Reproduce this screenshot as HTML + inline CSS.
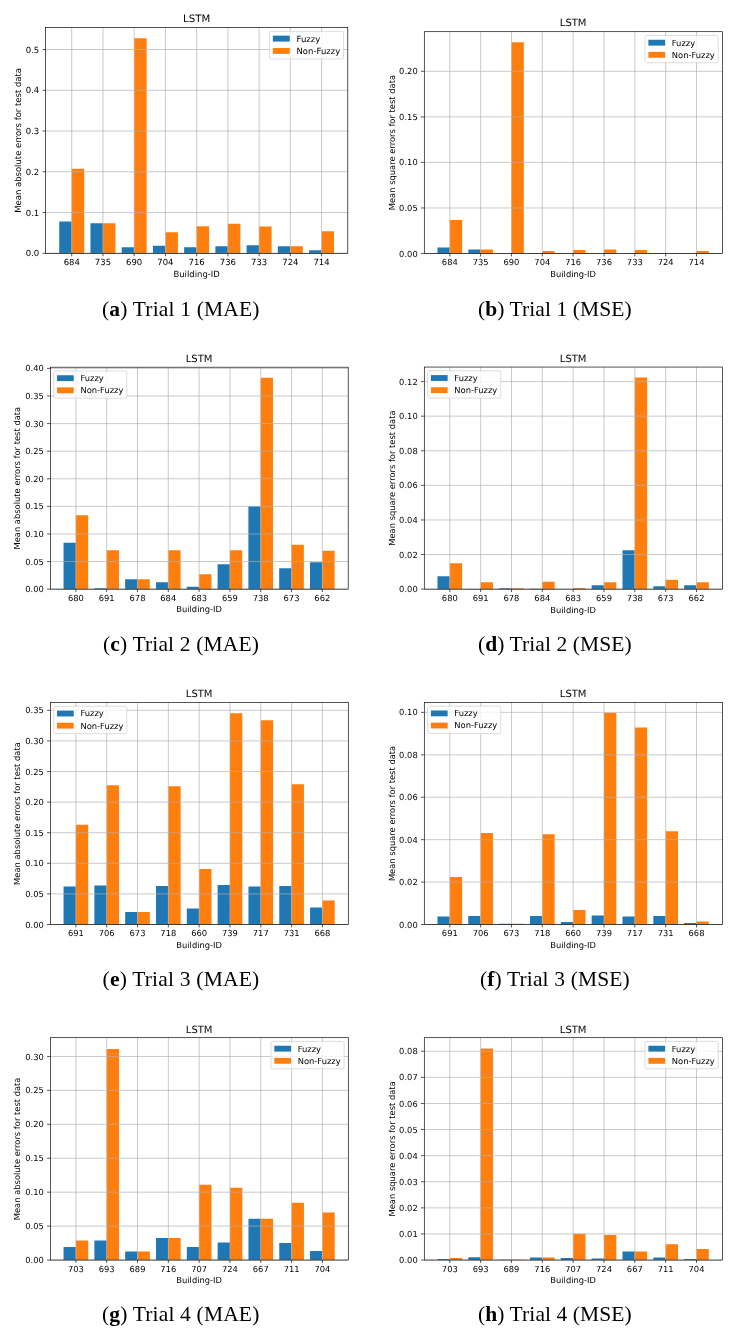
<!DOCTYPE html>
<html lang="en">
<head>
<meta charset="utf-8">
<title>LSTM fuzzy vs non-fuzzy errors</title>
<style>
html,body{margin:0;padding:0;background:#fff;}
body{width:742px;height:1340px;overflow:hidden;}
svg{display:block;will-change:transform;}
.chart text{font-family:"DejaVu Sans","Liberation Sans",sans-serif;fill:#000;text-rendering:geometricPrecision;}
.cap{font-family:"Liberation Serif","DejaVu Serif",serif;font-size:21.5px;fill:#000;}
.cap tspan.b{font-weight:bold;}
</style>
</head>
<body>
<svg width="742" height="1340" viewBox="0 0 742 1340">
<g class="chart" id="chart-a">
<path d="M59.24 253.3V221.51h12.49V253.3zM90.47 253.3V223.18h12.49V253.3zM121.7 253.3V247.23h12.49V253.3zM152.93 253.3V245.72h12.49V253.3zM184.16 253.3V247.23h12.49V253.3zM215.39 253.3V246.29h12.49V253.3zM246.62 253.3V245.19h12.49V253.3zM277.85 253.3V246.29h12.49V253.3zM309.08 253.3V250.28h12.49V253.3z" fill="#1f77b4"/>
<path d="M71.73 253.3V168.69h12.49V253.3zM102.96 253.3V223.18h12.49V253.3zM134.19 253.3V38.26h12.49V253.3zM165.42 253.3V232.19h12.49V253.3zM196.65 253.3V226.28h12.49V253.3zM227.88 253.3V223.75h12.49V253.3zM259.11 253.3V226.6h12.49V253.3zM290.34 253.3V246.29h12.49V253.3zM321.57 253.3V231.29h12.49V253.3z" fill="#ff7f0e"/>
<path d="M71.73 27.5V253.3M102.96 27.5V253.3M134.19 27.5V253.3M165.42 27.5V253.3M196.65 27.5V253.3M227.88 27.5V253.3M259.11 27.5V253.3M290.34 27.5V253.3M321.57 27.5V253.3M45.5 253.3H347.8M45.5 212.54H347.8M45.5 171.78H347.8M45.5 131.03H347.8M45.5 90.27H347.8M45.5 49.51H347.8" stroke="#b0b0b0" stroke-width="0.68" fill="none"/>
<path d="M71.73 253.3v2.96M102.96 253.3v2.96M134.19 253.3v2.96M165.42 253.3v2.96M196.65 253.3v2.96M227.88 253.3v2.96M259.11 253.3v2.96M290.34 253.3v2.96M321.57 253.3v2.96M45.5 253.3h-2.96M45.5 212.54h-2.96M45.5 171.78h-2.96M45.5 131.03h-2.96M45.5 90.27h-2.96M45.5 49.51h-2.96" stroke="#000" stroke-opacity="1" stroke-width="0.68" fill="none"/>
<rect x="45.5" y="27.5" width="302.3" height="225.8" fill="none" stroke="#000" stroke-opacity="1" stroke-width="0.68"/>
<rect x="269.46" y="31.28" width="74.11" height="27.67" rx="1.69" fill="#fff" fill-opacity="0.8" stroke="#ccc" stroke-opacity="0.8" stroke-width="0.85"/>
<rect x="272.84" y="35.65" width="16.93" height="5.92" fill="#1f77b4"/>
<rect x="272.84" y="47.97" width="16.93" height="5.92" fill="#ff7f0e"/>
<g opacity="1">
<text x="296.54" y="41.58" font-size="8.47">Fuzzy</text>
<text x="296.54" y="53.89" font-size="8.47">Non-Fuzzy</text>
<text x="71.73" y="265.12" font-size="8.47" text-anchor="middle">684</text>
<text x="102.96" y="265.12" font-size="8.47" text-anchor="middle">735</text>
<text x="134.19" y="265.12" font-size="8.47" text-anchor="middle">690</text>
<text x="165.42" y="265.12" font-size="8.47" text-anchor="middle">704</text>
<text x="196.65" y="265.12" font-size="8.47" text-anchor="middle">716</text>
<text x="227.88" y="265.12" font-size="8.47" text-anchor="middle">736</text>
<text x="259.11" y="265.12" font-size="8.47" text-anchor="middle">733</text>
<text x="290.34" y="265.12" font-size="8.47" text-anchor="middle">724</text>
<text x="321.57" y="265.12" font-size="8.47" text-anchor="middle">714</text>
<text x="39.22" y="256.41" font-size="8.47" text-anchor="end">0.0</text>
<text x="39.22" y="215.65" font-size="8.47" text-anchor="end">0.1</text>
<text x="39.22" y="174.89" font-size="8.47" text-anchor="end">0.2</text>
<text x="39.22" y="134.13" font-size="8.47" text-anchor="end">0.3</text>
<text x="39.22" y="93.38" font-size="8.47" text-anchor="end">0.4</text>
<text x="39.22" y="52.62" font-size="8.47" text-anchor="end">0.5</text>
<text x="196.65" y="276.95" font-size="8.47" text-anchor="middle">Building-ID</text>
<text transform="translate(20.5 140.4) rotate(-90)" font-size="8.47" text-anchor="middle">Mean absolute errors for test data</text>
<text x="196.65" y="22.42" font-size="10.16" text-anchor="middle">LSTM</text>
</g>
</g>
<g class="chart" id="chart-b">
<path d="M437.47 253.5V247.49h12.33V253.5zM468.3 253.5V249.49h12.33V253.5zM499.14 253.5V253.23h12.33V253.5zM529.98 253.5V253.14h12.33V253.5zM560.82 253.5V253.23h12.33V253.5zM591.65 253.5V253.23h12.33V253.5zM622.49 253.5V253.14h12.33V253.5zM653.33 253.5V253.23h12.33V253.5zM684.16 253.5V253.41h12.33V253.5z" fill="#1f77b4"/>
<path d="M449.8 253.5V220.07h12.33V253.5zM480.64 253.5V249.49h12.33V253.5zM511.48 253.5V42.36h12.33V253.5zM542.31 253.5V251.04h12.33V253.5zM573.15 253.5V250.04h12.33V253.5zM603.99 253.5V249.49h12.33V253.5zM634.82 253.5V250.04h12.33V253.5zM665.66 253.5V253.23h12.33V253.5zM696.5 253.5V251.04h12.33V253.5z" fill="#ff7f0e"/>
<path d="M449.8 31.7V253.5M480.64 31.7V253.5M511.48 31.7V253.5M542.31 31.7V253.5M573.15 31.7V253.5M603.99 31.7V253.5M634.82 31.7V253.5M665.66 31.7V253.5M696.5 31.7V253.5M423.9 253.5H722.4M423.9 207.96H722.4M423.9 162.41H722.4M423.9 116.87H722.4M423.9 71.32H722.4" stroke="#b0b0b0" stroke-width="0.67" fill="none"/>
<path d="M449.8 253.5v2.93M480.64 253.5v2.93M511.48 253.5v2.93M542.31 253.5v2.93M573.15 253.5v2.93M603.99 253.5v2.93M634.82 253.5v2.93M665.66 253.5v2.93M696.5 253.5v2.93M423.9 253.5h-2.93M423.9 207.96h-2.93M423.9 162.41h-2.93M423.9 116.87h-2.93M423.9 71.32h-2.93" stroke="#000" stroke-opacity="1" stroke-width="0.67" fill="none"/>
<rect x="424.3" y="31.7" width="298.1" height="221.8" fill="none" stroke="#000" stroke-opacity="1" stroke-width="0.67"/>
<rect x="645.04" y="35.43" width="73.18" height="27.32" rx="1.67" fill="#fff" fill-opacity="0.8" stroke="#ccc" stroke-opacity="0.8" stroke-width="0.84"/>
<rect x="648.38" y="39.75" width="16.72" height="5.85" fill="#1f77b4"/>
<rect x="648.38" y="51.91" width="16.72" height="5.85" fill="#ff7f0e"/>
<g opacity="1">
<text x="671.79" y="45.6" font-size="8.36">Fuzzy</text>
<text x="671.79" y="57.76" font-size="8.36">Non-Fuzzy</text>
<text x="449.8" y="265.18" font-size="8.36" text-anchor="middle">684</text>
<text x="480.64" y="265.18" font-size="8.36" text-anchor="middle">735</text>
<text x="511.48" y="265.18" font-size="8.36" text-anchor="middle">690</text>
<text x="542.31" y="265.18" font-size="8.36" text-anchor="middle">704</text>
<text x="573.15" y="265.18" font-size="8.36" text-anchor="middle">716</text>
<text x="603.99" y="265.18" font-size="8.36" text-anchor="middle">736</text>
<text x="634.82" y="265.18" font-size="8.36" text-anchor="middle">733</text>
<text x="665.66" y="265.18" font-size="8.36" text-anchor="middle">724</text>
<text x="696.5" y="265.18" font-size="8.36" text-anchor="middle">714</text>
<text x="417.7" y="256.57" font-size="8.36" text-anchor="end">0.00</text>
<text x="417.7" y="211.03" font-size="8.36" text-anchor="end">0.05</text>
<text x="417.7" y="165.48" font-size="8.36" text-anchor="end">0.10</text>
<text x="417.7" y="119.94" font-size="8.36" text-anchor="end">0.15</text>
<text x="417.7" y="74.39" font-size="8.36" text-anchor="end">0.20</text>
<text x="573.15" y="276.85" font-size="8.36" text-anchor="middle">Building-ID</text>
<text transform="translate(394.5 142.6) rotate(-90)" font-size="8.36" text-anchor="middle">Mean square errors for test data</text>
<text x="573.15" y="26.29" font-size="10.03" text-anchor="middle">LSTM</text>
</g>
</g>
<g class="chart" id="chart-c">
<path d="M63.55 589.15V542.69h12.32V589.15zM94.36 589.15V588.16h12.32V589.15zM125.17 589.15V579.16h12.32V589.15zM155.97 589.15V582.14h12.32V589.15zM186.78 589.15V586.67h12.32V589.15zM217.58 589.15V564.21h12.32V589.15zM248.39 589.15V506.26h12.32V589.15zM279.2 589.15V568.18h12.32V589.15zM310 589.15V562.17h12.32V589.15z" fill="#1f77b4"/>
<path d="M75.88 589.15V515.26h12.32V589.15zM106.68 589.15V550.19h12.32V589.15zM137.49 589.15V579.16h12.32V589.15zM168.29 589.15V550.19h12.32V589.15zM199.1 589.15V574.2h12.32V589.15zM229.91 589.15V550.19h12.32V589.15zM260.71 589.15V377.68h12.32V589.15zM291.52 589.15V544.73h12.32V589.15zM322.32 589.15V550.69h12.32V589.15z" fill="#ff7f0e"/>
<path d="M75.88 367.2V589.15M106.68 367.2V589.15M137.49 367.2V589.15M168.29 367.2V589.15M199.1 367.2V589.15M229.91 367.2V589.15M260.71 367.2V589.15M291.52 367.2V589.15M322.32 367.2V589.15M50 589.15H348.2M50 561.56H348.2M50 533.97H348.2M50 506.37H348.2M50 478.78H348.2M50 451.19H348.2M50 423.6H348.2M50 396.01H348.2M50 368.41H348.2" stroke="#b0b0b0" stroke-width="0.67" fill="none"/>
<path d="M75.88 589.15v2.92M106.68 589.15v2.92M137.49 589.15v2.92M168.29 589.15v2.92M199.1 589.15v2.92M229.91 589.15v2.92M260.71 589.15v2.92M291.52 589.15v2.92M322.32 589.15v2.92M50 589.15h-2.92M50 561.56h-2.92M50 533.97h-2.92M50 506.37h-2.92M50 478.78h-2.92M50 451.19h-2.92M50 423.6h-2.92M50 396.01h-2.92M50 368.41h-2.92" stroke="#000" stroke-opacity="1" stroke-width="0.67" fill="none"/>
<rect x="50.5" y="367.2" width="297.7" height="221.95" fill="none" stroke="#000" stroke-opacity="1" stroke-width="0.67"/>
<rect x="53.67" y="370.93" width="73.11" height="27.29" rx="1.67" fill="#fff" fill-opacity="0.8" stroke="#ccc" stroke-opacity="0.8" stroke-width="0.84"/>
<rect x="57.02" y="375.24" width="16.7" height="5.84" fill="#1f77b4"/>
<rect x="57.02" y="387.39" width="16.7" height="5.84" fill="#ff7f0e"/>
<g opacity="1">
<text x="80.4" y="381.09" font-size="8.35">Fuzzy</text>
<text x="80.4" y="393.23" font-size="8.35">Non-Fuzzy</text>
<text x="75.88" y="600.81" font-size="8.35" text-anchor="middle">680</text>
<text x="106.68" y="600.81" font-size="8.35" text-anchor="middle">691</text>
<text x="137.49" y="600.81" font-size="8.35" text-anchor="middle">678</text>
<text x="168.29" y="600.81" font-size="8.35" text-anchor="middle">684</text>
<text x="199.1" y="600.81" font-size="8.35" text-anchor="middle">683</text>
<text x="229.91" y="600.81" font-size="8.35" text-anchor="middle">659</text>
<text x="260.71" y="600.81" font-size="8.35" text-anchor="middle">738</text>
<text x="291.52" y="600.81" font-size="8.35" text-anchor="middle">673</text>
<text x="322.32" y="600.81" font-size="8.35" text-anchor="middle">662</text>
<text x="43.81" y="592.22" font-size="8.35" text-anchor="end">0.00</text>
<text x="43.81" y="564.62" font-size="8.35" text-anchor="end">0.05</text>
<text x="43.81" y="537.03" font-size="8.35" text-anchor="end">0.10</text>
<text x="43.81" y="509.44" font-size="8.35" text-anchor="end">0.15</text>
<text x="43.81" y="481.85" font-size="8.35" text-anchor="end">0.20</text>
<text x="43.81" y="454.26" font-size="8.35" text-anchor="end">0.25</text>
<text x="43.81" y="426.66" font-size="8.35" text-anchor="end">0.30</text>
<text x="43.81" y="399.07" font-size="8.35" text-anchor="end">0.35</text>
<text x="43.81" y="371.48" font-size="8.35" text-anchor="end">0.40</text>
<text x="199.1" y="612.48" font-size="8.35" text-anchor="middle">Building-ID</text>
<text transform="translate(20.4 478.17) rotate(-90)" font-size="8.35" text-anchor="middle">Mean absolute errors for test data</text>
<text x="199.1" y="362.19" font-size="10.02" text-anchor="middle">LSTM</text>
</g>
</g>
<g class="chart" id="chart-d">
<path d="M437.47 589.15V576.18h12.33V589.15zM468.3 589.15V588.98h12.33V589.15zM499.14 589.15V588.29h12.33V589.15zM529.98 589.15V588.8h12.33V589.15zM591.65 589.15V585.17h12.33V589.15zM622.49 589.15V550.14h12.33V589.15zM653.33 589.15V586.21h12.33V589.15zM684.16 589.15V585.17h12.33V589.15z" fill="#1f77b4"/>
<path d="M449.8 589.15V563.2h12.33V589.15zM480.64 589.15V582.23h12.33V589.15zM511.48 589.15V588.29h12.33V589.15zM542.31 589.15V581.71h12.33V589.15zM573.15 589.15V588.11h12.33V589.15zM603.99 589.15V582.23h12.33V589.15zM634.82 589.15V377.6h12.33V589.15zM665.66 589.15V579.64h12.33V589.15zM696.5 589.15V582.23h12.33V589.15z" fill="#ff7f0e"/>
<path d="M449.8 367.05V589.15M480.64 367.05V589.15M511.48 367.05V589.15M542.31 367.05V589.15M573.15 367.05V589.15M603.99 367.05V589.15M634.82 367.05V589.15M665.66 367.05V589.15M696.5 367.05V589.15M423.9 589.15H722.4M423.9 554.55H722.4M423.9 519.96H722.4M423.9 485.36H722.4M423.9 450.77H722.4M423.9 416.17H722.4M423.9 381.58H722.4" stroke="#b0b0b0" stroke-width="0.67" fill="none"/>
<path d="M449.8 589.15v2.93M480.64 589.15v2.93M511.48 589.15v2.93M542.31 589.15v2.93M573.15 589.15v2.93M603.99 589.15v2.93M634.82 589.15v2.93M665.66 589.15v2.93M696.5 589.15v2.93M423.9 589.15h-2.93M423.9 554.55h-2.93M423.9 519.96h-2.93M423.9 485.36h-2.93M423.9 450.77h-2.93M423.9 416.17h-2.93M423.9 381.58h-2.93" stroke="#000" stroke-opacity="1" stroke-width="0.67" fill="none"/>
<rect x="424.3" y="367.05" width="298.1" height="222.1" fill="none" stroke="#000" stroke-opacity="1" stroke-width="0.67"/>
<rect x="427.58" y="370.78" width="73.18" height="27.32" rx="1.67" fill="#fff" fill-opacity="0.8" stroke="#ccc" stroke-opacity="0.8" stroke-width="0.84"/>
<rect x="430.92" y="375.1" width="16.72" height="5.85" fill="#1f77b4"/>
<rect x="430.92" y="387.26" width="16.72" height="5.85" fill="#ff7f0e"/>
<g opacity="1">
<text x="454.33" y="380.95" font-size="8.36">Fuzzy</text>
<text x="454.33" y="393.11" font-size="8.36">Non-Fuzzy</text>
<text x="449.8" y="600.83" font-size="8.36" text-anchor="middle">680</text>
<text x="480.64" y="600.83" font-size="8.36" text-anchor="middle">691</text>
<text x="511.48" y="600.83" font-size="8.36" text-anchor="middle">678</text>
<text x="542.31" y="600.83" font-size="8.36" text-anchor="middle">684</text>
<text x="573.15" y="600.83" font-size="8.36" text-anchor="middle">683</text>
<text x="603.99" y="600.83" font-size="8.36" text-anchor="middle">659</text>
<text x="634.82" y="600.83" font-size="8.36" text-anchor="middle">738</text>
<text x="665.66" y="600.83" font-size="8.36" text-anchor="middle">673</text>
<text x="696.5" y="600.83" font-size="8.36" text-anchor="middle">662</text>
<text x="417.7" y="592.22" font-size="8.36" text-anchor="end">0.00</text>
<text x="417.7" y="557.62" font-size="8.36" text-anchor="end">0.02</text>
<text x="417.7" y="523.03" font-size="8.36" text-anchor="end">0.04</text>
<text x="417.7" y="488.43" font-size="8.36" text-anchor="end">0.06</text>
<text x="417.7" y="453.84" font-size="8.36" text-anchor="end">0.08</text>
<text x="417.7" y="419.24" font-size="8.36" text-anchor="end">0.10</text>
<text x="417.7" y="384.65" font-size="8.36" text-anchor="end">0.12</text>
<text x="573.15" y="612.5" font-size="8.36" text-anchor="middle">Building-ID</text>
<text transform="translate(394.5 478.1) rotate(-90)" font-size="8.36" text-anchor="middle">Mean square errors for test data</text>
<text x="573.15" y="362.04" font-size="10.03" text-anchor="middle">LSTM</text>
</g>
</g>
<g class="chart" id="chart-e">
<path d="M63.56 924.5V886.56h12.33V924.5zM94.38 924.5V885.58h12.33V924.5zM125.19 924.5V912.02h12.33V924.5zM156.01 924.5V886.07h12.33V924.5zM186.82 924.5V908.53h12.33V924.5zM217.64 924.5V885.09h12.33V924.5zM248.46 924.5V886.56h12.33V924.5zM279.27 924.5V886.07h12.33V924.5zM310.09 924.5V907.55h12.33V924.5z" fill="#1f77b4"/>
<path d="M75.89 924.5V824.63h12.33V924.5zM106.7 924.5V785.22h12.33V924.5zM137.52 924.5V912.02h12.33V924.5zM168.33 924.5V786.2h12.33V924.5zM199.15 924.5V869.06h12.33V924.5zM229.97 924.5V713.14h12.33V924.5zM260.78 924.5V720.36h12.33V924.5zM291.6 924.5V784.24h12.33V924.5zM322.41 924.5V900.51h12.33V924.5z" fill="#ff7f0e"/>
<path d="M75.89 702.55V924.5M106.7 702.55V924.5M137.52 702.55V924.5M168.33 702.55V924.5M199.15 702.55V924.5M229.97 702.55V924.5M260.78 702.55V924.5M291.6 702.55V924.5M322.41 702.55V924.5M50 924.5H348.3M50 893.9H348.3M50 863.31H348.3M50 832.71H348.3M50 802.11H348.3M50 771.52H348.3M50 740.92H348.3M50 710.32H348.3" stroke="#b0b0b0" stroke-width="0.67" fill="none"/>
<path d="M75.89 924.5v2.92M106.7 924.5v2.92M137.52 924.5v2.92M168.33 924.5v2.92M199.15 924.5v2.92M229.97 924.5v2.92M260.78 924.5v2.92M291.6 924.5v2.92M322.41 924.5v2.92M50 924.5h-2.92M50 893.9h-2.92M50 863.31h-2.92M50 832.71h-2.92M50 802.11h-2.92M50 771.52h-2.92M50 740.92h-2.92M50 710.32h-2.92" stroke="#000" stroke-opacity="1" stroke-width="0.67" fill="none"/>
<rect x="50.5" y="702.55" width="297.8" height="221.95" fill="none" stroke="#000" stroke-opacity="1" stroke-width="0.67"/>
<rect x="53.68" y="706.28" width="73.13" height="27.3" rx="1.67" fill="#fff" fill-opacity="0.8" stroke="#ccc" stroke-opacity="0.8" stroke-width="0.84"/>
<rect x="57.02" y="710.6" width="16.71" height="5.85" fill="#1f77b4"/>
<rect x="57.02" y="722.75" width="16.71" height="5.85" fill="#ff7f0e"/>
<g opacity="1">
<text x="80.41" y="716.44" font-size="8.35">Fuzzy</text>
<text x="80.41" y="728.59" font-size="8.35">Non-Fuzzy</text>
<text x="75.89" y="936.17" font-size="8.35" text-anchor="middle">691</text>
<text x="106.7" y="936.17" font-size="8.35" text-anchor="middle">706</text>
<text x="137.52" y="936.17" font-size="8.35" text-anchor="middle">673</text>
<text x="168.33" y="936.17" font-size="8.35" text-anchor="middle">718</text>
<text x="199.15" y="936.17" font-size="8.35" text-anchor="middle">660</text>
<text x="229.97" y="936.17" font-size="8.35" text-anchor="middle">739</text>
<text x="260.78" y="936.17" font-size="8.35" text-anchor="middle">717</text>
<text x="291.6" y="936.17" font-size="8.35" text-anchor="middle">731</text>
<text x="322.41" y="936.17" font-size="8.35" text-anchor="middle">668</text>
<text x="43.81" y="927.57" font-size="8.35" text-anchor="end">0.00</text>
<text x="43.81" y="896.97" font-size="8.35" text-anchor="end">0.05</text>
<text x="43.81" y="866.37" font-size="8.35" text-anchor="end">0.10</text>
<text x="43.81" y="835.78" font-size="8.35" text-anchor="end">0.15</text>
<text x="43.81" y="805.18" font-size="8.35" text-anchor="end">0.20</text>
<text x="43.81" y="774.58" font-size="8.35" text-anchor="end">0.25</text>
<text x="43.81" y="743.99" font-size="8.35" text-anchor="end">0.30</text>
<text x="43.81" y="713.39" font-size="8.35" text-anchor="end">0.35</text>
<text x="199.15" y="947.83" font-size="8.35" text-anchor="middle">Building-ID</text>
<text transform="translate(20.4 813.52) rotate(-90)" font-size="8.35" text-anchor="middle">Mean absolute errors for test data</text>
<text x="199.15" y="697.14" font-size="10.02" text-anchor="middle">LSTM</text>
</g>
</g>
<g class="chart" id="chart-f">
<path d="M437.47 924.5V916.44h12.33V924.5zM468.3 924.5V916.01h12.33V924.5zM499.14 924.5V923.86h12.33V924.5zM529.98 924.5V916.01h12.33V924.5zM560.82 924.5V921.95h12.33V924.5zM591.65 924.5V915.59h12.33V924.5zM622.49 924.5V916.44h12.33V924.5zM653.33 924.5V916.01h12.33V924.5zM684.16 924.5V923.02h12.33V924.5z" fill="#1f77b4"/>
<path d="M449.8 924.5V877.09h12.33V924.5zM480.64 924.5V833.07h12.33V924.5zM511.48 924.5V923.65h12.33V924.5zM542.31 924.5V834.13h12.33V924.5zM573.15 924.5V910.08h12.33V924.5zM603.99 924.5V712.79h12.33V924.5zM634.82 924.5V727.43h12.33V924.5zM665.66 924.5V831.37h12.33V924.5zM696.5 924.5V921.53h12.33V924.5z" fill="#ff7f0e"/>
<path d="M449.8 702.4V924.5M480.64 702.4V924.5M511.48 702.4V924.5M542.31 702.4V924.5M573.15 702.4V924.5M603.99 702.4V924.5M634.82 702.4V924.5M665.66 702.4V924.5M696.5 702.4V924.5M423.9 924.5H722.4M423.9 882.07H722.4M423.9 839.65H722.4M423.9 797.22H722.4M423.9 754.8H722.4M423.9 712.37H722.4" stroke="#b0b0b0" stroke-width="0.67" fill="none"/>
<path d="M449.8 924.5v2.93M480.64 924.5v2.93M511.48 924.5v2.93M542.31 924.5v2.93M573.15 924.5v2.93M603.99 924.5v2.93M634.82 924.5v2.93M665.66 924.5v2.93M696.5 924.5v2.93M423.9 924.5h-2.93M423.9 882.07h-2.93M423.9 839.65h-2.93M423.9 797.22h-2.93M423.9 754.8h-2.93M423.9 712.37h-2.93" stroke="#000" stroke-opacity="1" stroke-width="0.67" fill="none"/>
<rect x="424.3" y="702.4" width="298.1" height="222.1" fill="none" stroke="#000" stroke-opacity="1" stroke-width="0.67"/>
<rect x="427.58" y="706.13" width="73.18" height="27.32" rx="1.67" fill="#fff" fill-opacity="0.8" stroke="#ccc" stroke-opacity="0.8" stroke-width="0.84"/>
<rect x="430.92" y="710.45" width="16.72" height="5.85" fill="#1f77b4"/>
<rect x="430.92" y="722.61" width="16.72" height="5.85" fill="#ff7f0e"/>
<g opacity="1">
<text x="454.33" y="716.3" font-size="8.36">Fuzzy</text>
<text x="454.33" y="728.46" font-size="8.36">Non-Fuzzy</text>
<text x="449.8" y="936.18" font-size="8.36" text-anchor="middle">691</text>
<text x="480.64" y="936.18" font-size="8.36" text-anchor="middle">706</text>
<text x="511.48" y="936.18" font-size="8.36" text-anchor="middle">673</text>
<text x="542.31" y="936.18" font-size="8.36" text-anchor="middle">718</text>
<text x="573.15" y="936.18" font-size="8.36" text-anchor="middle">660</text>
<text x="603.99" y="936.18" font-size="8.36" text-anchor="middle">739</text>
<text x="634.82" y="936.18" font-size="8.36" text-anchor="middle">717</text>
<text x="665.66" y="936.18" font-size="8.36" text-anchor="middle">731</text>
<text x="696.5" y="936.18" font-size="8.36" text-anchor="middle">668</text>
<text x="417.7" y="927.57" font-size="8.36" text-anchor="end">0.00</text>
<text x="417.7" y="885.14" font-size="8.36" text-anchor="end">0.02</text>
<text x="417.7" y="842.72" font-size="8.36" text-anchor="end">0.04</text>
<text x="417.7" y="800.29" font-size="8.36" text-anchor="end">0.06</text>
<text x="417.7" y="757.87" font-size="8.36" text-anchor="end">0.08</text>
<text x="417.7" y="715.44" font-size="8.36" text-anchor="end">0.10</text>
<text x="573.15" y="947.85" font-size="8.36" text-anchor="middle">Building-ID</text>
<text transform="translate(394.5 813.45) rotate(-90)" font-size="8.36" text-anchor="middle">Mean square errors for test data</text>
<text x="573.15" y="696.89" font-size="10.03" text-anchor="middle">LSTM</text>
</g>
</g>
<g class="chart" id="chart-g">
<path d="M63.56 1260.05V1247.09h12.33V1260.05zM94.38 1260.05V1240.57h12.33V1260.05zM125.19 1260.05V1251.57h12.33V1260.05zM156.01 1260.05V1238.06h12.33V1260.05zM186.82 1260.05V1247.09h12.33V1260.05zM217.64 1260.05V1242.61h12.33V1260.05zM248.46 1260.05V1218.66h12.33V1260.05zM279.27 1260.05V1243.09h12.33V1260.05zM310.09 1260.05V1251.09h12.33V1260.05z" fill="#1f77b4"/>
<path d="M75.89 1260.05V1240.57h12.33V1260.05zM106.7 1260.05V1048.94h12.33V1260.05zM137.52 1260.05V1251.57h12.33V1260.05zM168.33 1260.05V1238.06h12.33V1260.05zM199.15 1260.05V1184.73h12.33V1260.05zM229.97 1260.05V1187.71h12.33V1260.05zM260.78 1260.05V1218.66h12.33V1260.05zM291.6 1260.05V1202.64h12.33V1260.05zM322.41 1260.05V1212.62h12.33V1260.05z" fill="#ff7f0e"/>
<path d="M75.89 1037.7V1260.05M106.7 1037.7V1260.05M137.52 1037.7V1260.05M168.33 1037.7V1260.05M199.15 1037.7V1260.05M229.97 1037.7V1260.05M260.78 1037.7V1260.05M291.6 1037.7V1260.05M322.41 1037.7V1260.05M50 1260.05H348.3M50 1226.12H348.3M50 1192.19H348.3M50 1158.26H348.3M50 1124.33H348.3M50 1090.4H348.3M50 1056.47H348.3" stroke="#b0b0b0" stroke-width="0.67" fill="none"/>
<path d="M75.89 1260.05v2.92M106.7 1260.05v2.92M137.52 1260.05v2.92M168.33 1260.05v2.92M199.15 1260.05v2.92M229.97 1260.05v2.92M260.78 1260.05v2.92M291.6 1260.05v2.92M322.41 1260.05v2.92M50 1260.05h-2.92M50 1226.12h-2.92M50 1192.19h-2.92M50 1158.26h-2.92M50 1124.33h-2.92M50 1090.4h-2.92M50 1056.47h-2.92" stroke="#000" stroke-opacity="1" stroke-width="0.67" fill="none"/>
<rect x="50.5" y="1037.7" width="297.8" height="222.35" fill="none" stroke="#000" stroke-opacity="1" stroke-width="0.67"/>
<rect x="270.99" y="1041.43" width="73.13" height="27.3" rx="1.67" fill="#fff" fill-opacity="0.8" stroke="#ccc" stroke-opacity="0.8" stroke-width="0.84"/>
<rect x="274.33" y="1045.75" width="16.71" height="5.85" fill="#1f77b4"/>
<rect x="274.33" y="1057.9" width="16.71" height="5.85" fill="#ff7f0e"/>
<g opacity="1">
<text x="297.72" y="1051.59" font-size="8.35">Fuzzy</text>
<text x="297.72" y="1063.74" font-size="8.35">Non-Fuzzy</text>
<text x="75.89" y="1271.72" font-size="8.35" text-anchor="middle">703</text>
<text x="106.7" y="1271.72" font-size="8.35" text-anchor="middle">693</text>
<text x="137.52" y="1271.72" font-size="8.35" text-anchor="middle">689</text>
<text x="168.33" y="1271.72" font-size="8.35" text-anchor="middle">716</text>
<text x="199.15" y="1271.72" font-size="8.35" text-anchor="middle">707</text>
<text x="229.97" y="1271.72" font-size="8.35" text-anchor="middle">724</text>
<text x="260.78" y="1271.72" font-size="8.35" text-anchor="middle">667</text>
<text x="291.6" y="1271.72" font-size="8.35" text-anchor="middle">711</text>
<text x="322.41" y="1271.72" font-size="8.35" text-anchor="middle">704</text>
<text x="43.81" y="1263.12" font-size="8.35" text-anchor="end">0.00</text>
<text x="43.81" y="1229.19" font-size="8.35" text-anchor="end">0.05</text>
<text x="43.81" y="1195.26" font-size="8.35" text-anchor="end">0.10</text>
<text x="43.81" y="1161.33" font-size="8.35" text-anchor="end">0.15</text>
<text x="43.81" y="1127.4" font-size="8.35" text-anchor="end">0.20</text>
<text x="43.81" y="1093.47" font-size="8.35" text-anchor="end">0.25</text>
<text x="43.81" y="1059.54" font-size="8.35" text-anchor="end">0.30</text>
<text x="199.15" y="1283.38" font-size="8.35" text-anchor="middle">Building-ID</text>
<text transform="translate(20.4 1148.88) rotate(-90)" font-size="8.35" text-anchor="middle">Mean absolute errors for test data</text>
<text x="199.15" y="1032.69" font-size="10.02" text-anchor="middle">LSTM</text>
</g>
</g>
<g class="chart" id="chart-h">
<path d="M437.47 1260.05V1259.01h12.33V1260.05zM468.3 1260.05V1257.18h12.33V1260.05zM499.14 1260.05V1259.79h12.33V1260.05zM529.98 1260.05V1257.44h12.33V1260.05zM560.82 1260.05V1257.96h12.33V1260.05zM591.65 1260.05V1258.48h12.33V1260.05zM622.49 1260.05V1251.44h12.33V1260.05zM653.33 1260.05V1257.44h12.33V1260.05zM684.16 1260.05V1259.01h12.33V1260.05z" fill="#1f77b4"/>
<path d="M449.8 1260.05V1257.96h12.33V1260.05zM480.64 1260.05V1048.4h12.33V1260.05zM511.48 1260.05V1259.79h12.33V1260.05zM542.31 1260.05V1257.44h12.33V1260.05zM573.15 1260.05V1233.69h12.33V1260.05zM603.99 1260.05V1235h12.33V1260.05zM634.82 1260.05V1251.44h12.33V1260.05zM665.66 1260.05V1244.13h12.33V1260.05zM696.5 1260.05V1249.09h12.33V1260.05z" fill="#ff7f0e"/>
<path d="M449.8 1037.7V1260.05M480.64 1037.7V1260.05M511.48 1037.7V1260.05M542.31 1037.7V1260.05M573.15 1037.7V1260.05M603.99 1037.7V1260.05M634.82 1037.7V1260.05M665.66 1037.7V1260.05M696.5 1037.7V1260.05M423.9 1260.05H722.4M423.9 1233.95H722.4M423.9 1207.86H722.4M423.9 1181.76H722.4M423.9 1155.66H722.4M423.9 1129.56H722.4M423.9 1103.47H722.4M423.9 1077.37H722.4M423.9 1051.27H722.4" stroke="#b0b0b0" stroke-width="0.67" fill="none"/>
<path d="M449.8 1260.05v2.93M480.64 1260.05v2.93M511.48 1260.05v2.93M542.31 1260.05v2.93M573.15 1260.05v2.93M603.99 1260.05v2.93M634.82 1260.05v2.93M665.66 1260.05v2.93M696.5 1260.05v2.93M423.9 1260.05h-2.93M423.9 1233.95h-2.93M423.9 1207.86h-2.93M423.9 1181.76h-2.93M423.9 1155.66h-2.93M423.9 1129.56h-2.93M423.9 1103.47h-2.93M423.9 1077.37h-2.93M423.9 1051.27h-2.93" stroke="#000" stroke-opacity="1" stroke-width="0.67" fill="none"/>
<rect x="424.3" y="1037.7" width="298.1" height="222.35" fill="none" stroke="#000" stroke-opacity="1" stroke-width="0.67"/>
<rect x="645.04" y="1041.43" width="73.18" height="27.32" rx="1.67" fill="#fff" fill-opacity="0.8" stroke="#ccc" stroke-opacity="0.8" stroke-width="0.84"/>
<rect x="648.38" y="1045.75" width="16.72" height="5.85" fill="#1f77b4"/>
<rect x="648.38" y="1057.91" width="16.72" height="5.85" fill="#ff7f0e"/>
<g opacity="1">
<text x="671.79" y="1051.6" font-size="8.36">Fuzzy</text>
<text x="671.79" y="1063.76" font-size="8.36">Non-Fuzzy</text>
<text x="449.8" y="1271.73" font-size="8.36" text-anchor="middle">703</text>
<text x="480.64" y="1271.73" font-size="8.36" text-anchor="middle">693</text>
<text x="511.48" y="1271.73" font-size="8.36" text-anchor="middle">689</text>
<text x="542.31" y="1271.73" font-size="8.36" text-anchor="middle">716</text>
<text x="573.15" y="1271.73" font-size="8.36" text-anchor="middle">707</text>
<text x="603.99" y="1271.73" font-size="8.36" text-anchor="middle">724</text>
<text x="634.82" y="1271.73" font-size="8.36" text-anchor="middle">667</text>
<text x="665.66" y="1271.73" font-size="8.36" text-anchor="middle">711</text>
<text x="696.5" y="1271.73" font-size="8.36" text-anchor="middle">704</text>
<text x="417.7" y="1263.12" font-size="8.36" text-anchor="end">0.00</text>
<text x="417.7" y="1237.02" font-size="8.36" text-anchor="end">0.01</text>
<text x="417.7" y="1210.92" font-size="8.36" text-anchor="end">0.02</text>
<text x="417.7" y="1184.83" font-size="8.36" text-anchor="end">0.03</text>
<text x="417.7" y="1158.73" font-size="8.36" text-anchor="end">0.04</text>
<text x="417.7" y="1132.63" font-size="8.36" text-anchor="end">0.05</text>
<text x="417.7" y="1106.53" font-size="8.36" text-anchor="end">0.06</text>
<text x="417.7" y="1080.44" font-size="8.36" text-anchor="end">0.07</text>
<text x="417.7" y="1054.34" font-size="8.36" text-anchor="end">0.08</text>
<text x="573.15" y="1283.4" font-size="8.36" text-anchor="middle">Building-ID</text>
<text transform="translate(394.5 1148.88) rotate(-90)" font-size="8.36" text-anchor="middle">Mean square errors for test data</text>
<text x="573.15" y="1032.69" font-size="10.03" text-anchor="middle">LSTM</text>
</g>
</g>
<g opacity="1">
<text class="cap" id="cap-a" x="102.00" y="315.8" style="letter-spacing:0.175px">(<tspan class="b">a</tspan>) Trial 1 (MAE)</text>
<text class="cap" id="cap-b" x="478.00" y="315.8" style="letter-spacing:0.075px">(<tspan class="b">b</tspan>) Trial 1 (MSE)</text>
<text class="cap" id="cap-c" x="103.00" y="650.9" style="letter-spacing:0.150px">(<tspan class="b">c</tspan>) Trial 2 (MAE)</text>
<text class="cap" id="cap-d" x="478.00" y="650.9" style="letter-spacing:0.075px">(<tspan class="b">d</tspan>) Trial 2 (MSE)</text>
<text class="cap" id="cap-e" x="102.50" y="986.4" style="letter-spacing:0.200px">(<tspan class="b">e</tspan>) Trial 3 (MAE)</text>
<text class="cap" id="cap-f" x="480.00" y="986.4" style="letter-spacing:0.137px">(<tspan class="b">f</tspan>) Trial 3 (MSE)</text>
<text class="cap" id="cap-g" x="102.00" y="1321.4" style="letter-spacing:0.163px">(<tspan class="b">g</tspan>) Trial 4 (MAE)</text>
<text class="cap" id="cap-h" x="478.00" y="1321.4" style="letter-spacing:0.087px">(<tspan class="b">h</tspan>) Trial 4 (MSE)</text>
</g>
</svg>
</body>
</html>
